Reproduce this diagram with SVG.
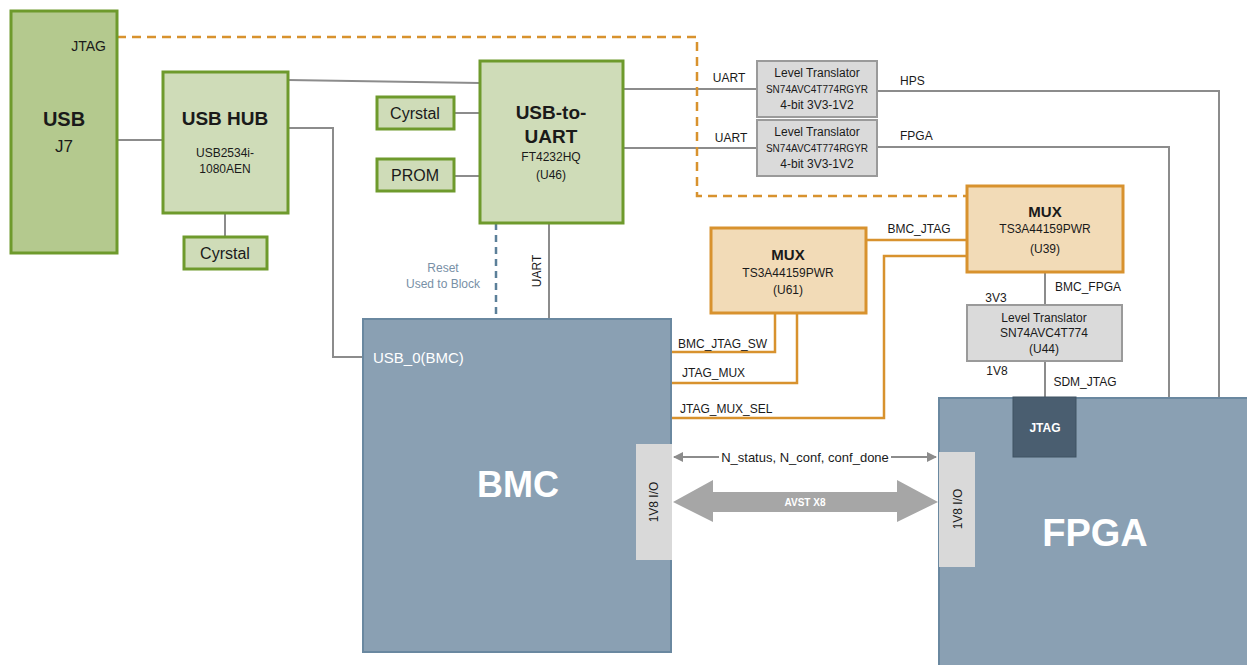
<svg xmlns="http://www.w3.org/2000/svg" width="1247" height="665" viewBox="0 0 1247 665">
<defs>
<style>
text{font-family:"Liberation Sans",Arial,sans-serif;fill:#1a1a1a;text-anchor:middle}
.g{fill:#cfdcb8;stroke:#6e9a2c;stroke-width:3}
.gd{fill:#b4c98e;stroke:#6e9a2c;stroke-width:3}
.o{fill:#f2dbb7;stroke:#d8922e;stroke-width:3}
.lt{fill:#dadada;stroke:#9a9a9a;stroke-width:2}
.blk{fill:#8aa0b3;stroke:#6a88a0;stroke-width:2}
.io{fill:#d9d9d9}
.w{stroke:#8c8c8c;stroke-width:2;fill:none}
.ow{stroke:#d8922e;stroke-width:2.5;fill:none}
.b{font-weight:bold}
.s{font-size:12px}
.st{text-anchor:start}
</style>
<marker id="ah" viewBox="0 0 10 10" refX="9" refY="5" markerWidth="5" markerHeight="5" orient="auto-start-reverse">
<path d="M0,0L10,5L0,10z" fill="#8c8c8c"/>
</marker>
</defs>
<rect width="1247" height="665" fill="#fff"/>

<g id="connectors">
<path class="w" d="M117,140H163"/>
<path class="w" d="M225,213V237"/>
<path class="w" d="M288,80L480,83"/>
<path class="w" d="M288,128H333V357H363"/>
<path class="w" d="M454,113H480"/>
<path class="w" d="M454,176H480"/>
<path class="w" d="M623,89H757"/>
<path class="w" d="M623,148H757"/>
<path class="w" d="M877,91H1219V398"/>
<path class="w" d="M877,147H1169V398"/>
<path class="w" d="M549,223V319"/>
<path d="M496,223V319" stroke="#5b7f99" stroke-width="2.5" stroke-dasharray="7,5" fill="none"/>
<path class="w" d="M1045,272V305"/>
<path class="w" d="M1045,361V398"/>
<path d="M117,37H697V196H967" stroke="#d8922e" stroke-width="2.5" stroke-dasharray="9,6" fill="none"/>
<path class="ow" d="M866,240H967"/>
<path class="ow" d="M967,256H884V418H671"/>
<path class="ow" d="M775,313V352H671"/>
<path class="ow" d="M797,313V383H671"/>
<path class="w" d="M674,457H936" marker-start="url(#ah)" marker-end="url(#ah)"/>
<path d="M673,502L713,480V492H897V480L938,502L897,522V512H713V522Z" fill="#a6a6a6"/>
<text x="443" y="272" class="s" style="fill:#7890a6">Reset</text>
<text x="443" y="288" class="s" style="fill:#7890a6">Used to Block</text>
<text transform="translate(541,271) rotate(-90)" class="s">UART</text>
<text x="729" y="82" class="s">UART</text>
<text x="731" y="142" class="s">UART</text>
<text x="900" y="85" class="s st">HPS</text>
<text x="900" y="140" class="s st">FPGA</text>
<text x="919" y="233" class="s">BMC_JTAG</text>
<text x="678" y="348" class="s st">BMC_JTAG_SW</text>
<text x="682" y="377" class="s st">JTAG_MUX</text>
<text x="680" y="413" class="s st">JTAG_MUX_SEL</text>
<text x="996" y="302" class="s">3V3</text>
<text x="1088" y="291" class="s">BMC_FPGA</text>
<text x="997" y="375" class="s">1V8</text>
<text x="1085" y="386" class="s">SDM_JTAG</text>
<rect x="719" y="450" width="172" height="14" fill="#fff"/>
<text x="805" y="462" style="font-size:13px">N_status, N_conf, conf_done</text>
<text x="805" y="506" class="b" style="font-size:10px;fill:#fff">AVST X8</text>
</g>

<g id="usb-j7">
<rect class="gd" x="11" y="11" width="106" height="242"/>
<text x="106" y="51" class="st" style="font-size:14px;text-anchor:end">JTAG</text>
<text x="64" y="126" class="b" style="font-size:20px">USB</text>
<text x="64" y="152" style="font-size:17px">J7</text>
</g>

<g id="usb-hub">
<rect class="g" x="163" y="72" width="125" height="141"/>
<text x="225" y="125" class="b" style="font-size:19px">USB HUB</text>
<text x="225" y="157" class="s">USB2534i-</text>
<text x="225" y="173" class="s">1080AEN</text>
</g>

<g id="hub-crystal">
<rect class="g" x="184" y="237" width="83" height="32"/>
<text x="225" y="259" style="font-size:16px">Cyrstal</text>
</g>

<g id="uart-crystal">
<rect class="g" x="377" y="97" width="77" height="32"/>
<text x="415" y="119" style="font-size:16px">Cyrstal</text>
</g>

<g id="prom">
<rect class="g" x="377" y="159" width="77" height="32"/>
<text x="415" y="181" style="font-size:16px">PROM</text>
</g>

<g id="usb-to-uart">
<rect class="g" x="480" y="61" width="143" height="162"/>
<text x="551" y="119" class="b" style="font-size:19px">USB-to-</text>
<text x="551" y="143" class="b" style="font-size:19px">UART</text>
<text x="551" y="161" class="s">FT4232HQ</text>
<text x="551" y="179" class="s">(U46)</text>
</g>

<g id="level-translator-hps">
<rect class="lt" x="757" y="61" width="120" height="56"/>
<text x="817" y="77" class="s">Level Translator</text>
<text x="817" y="93" style="font-size:10px">SN74AVC4T774RGYR</text>
<text x="817" y="109" class="s">4-bit 3V3-1V2</text>
</g>

<g id="level-translator-fpga">
<rect class="lt" x="757" y="120" width="120" height="56"/>
<text x="817" y="136" class="s">Level Translator</text>
<text x="817" y="152" style="font-size:10px">SN74AVC4T774RGYR</text>
<text x="817" y="168" class="s">4-bit 3V3-1V2</text>
</g>

<g id="mux-u39">
<rect class="o" x="967" y="186" width="156" height="86"/>
<text x="1045" y="217" class="b" style="font-size:15px">MUX</text>
<text x="1045" y="233" class="s">TS3A44159PWR</text>
<text x="1045" y="253" class="s">(U39)</text>
</g>

<g id="mux-u61">
<rect class="o" x="711" y="228" width="155" height="85"/>
<text x="788" y="260" class="b" style="font-size:15px">MUX</text>
<text x="788" y="277" class="s">TS3A44159PWR</text>
<text x="788" y="294" class="s">(U61)</text>
</g>

<g id="level-translator-u44">
<rect class="lt" x="967" y="305" width="155" height="56"/>
<text x="1044" y="322" class="s">Level Translator</text>
<text x="1044" y="337" class="s">SN74AVC4T774</text>
<text x="1044" y="353" class="s">(U44)</text>
</g>

<g id="bmc">
<rect class="blk" x="363" y="319" width="308" height="333"/>
<text x="373" y="363" class="st" style="font-size:15px;fill:#fff">USB_0(BMC)</text>
<text x="518" y="497" class="b" style="font-size:36px;fill:#fff">BMC</text>
<rect class="io" x="636" y="444" width="36" height="116"/>
<text transform="translate(658,502) rotate(-90)" class="s">1V8 I/O</text>
</g>

<g id="fpga">
<rect class="blk" x="939" y="398" width="312" height="270"/>
<rect x="1013" y="397" width="63" height="60" fill="#4a5e70" stroke="#3e5263"/>
<text x="1045" y="432" class="b" style="font-size:12px;fill:#fff">JTAG</text>
<rect class="io" x="939" y="452" width="36" height="115"/>
<text transform="translate(962,509) rotate(-90)" class="s">1V8 I/O</text>
<text x="1095" y="546" class="b" style="font-size:38px;fill:#fff">FPGA</text>
</g>
</svg>
